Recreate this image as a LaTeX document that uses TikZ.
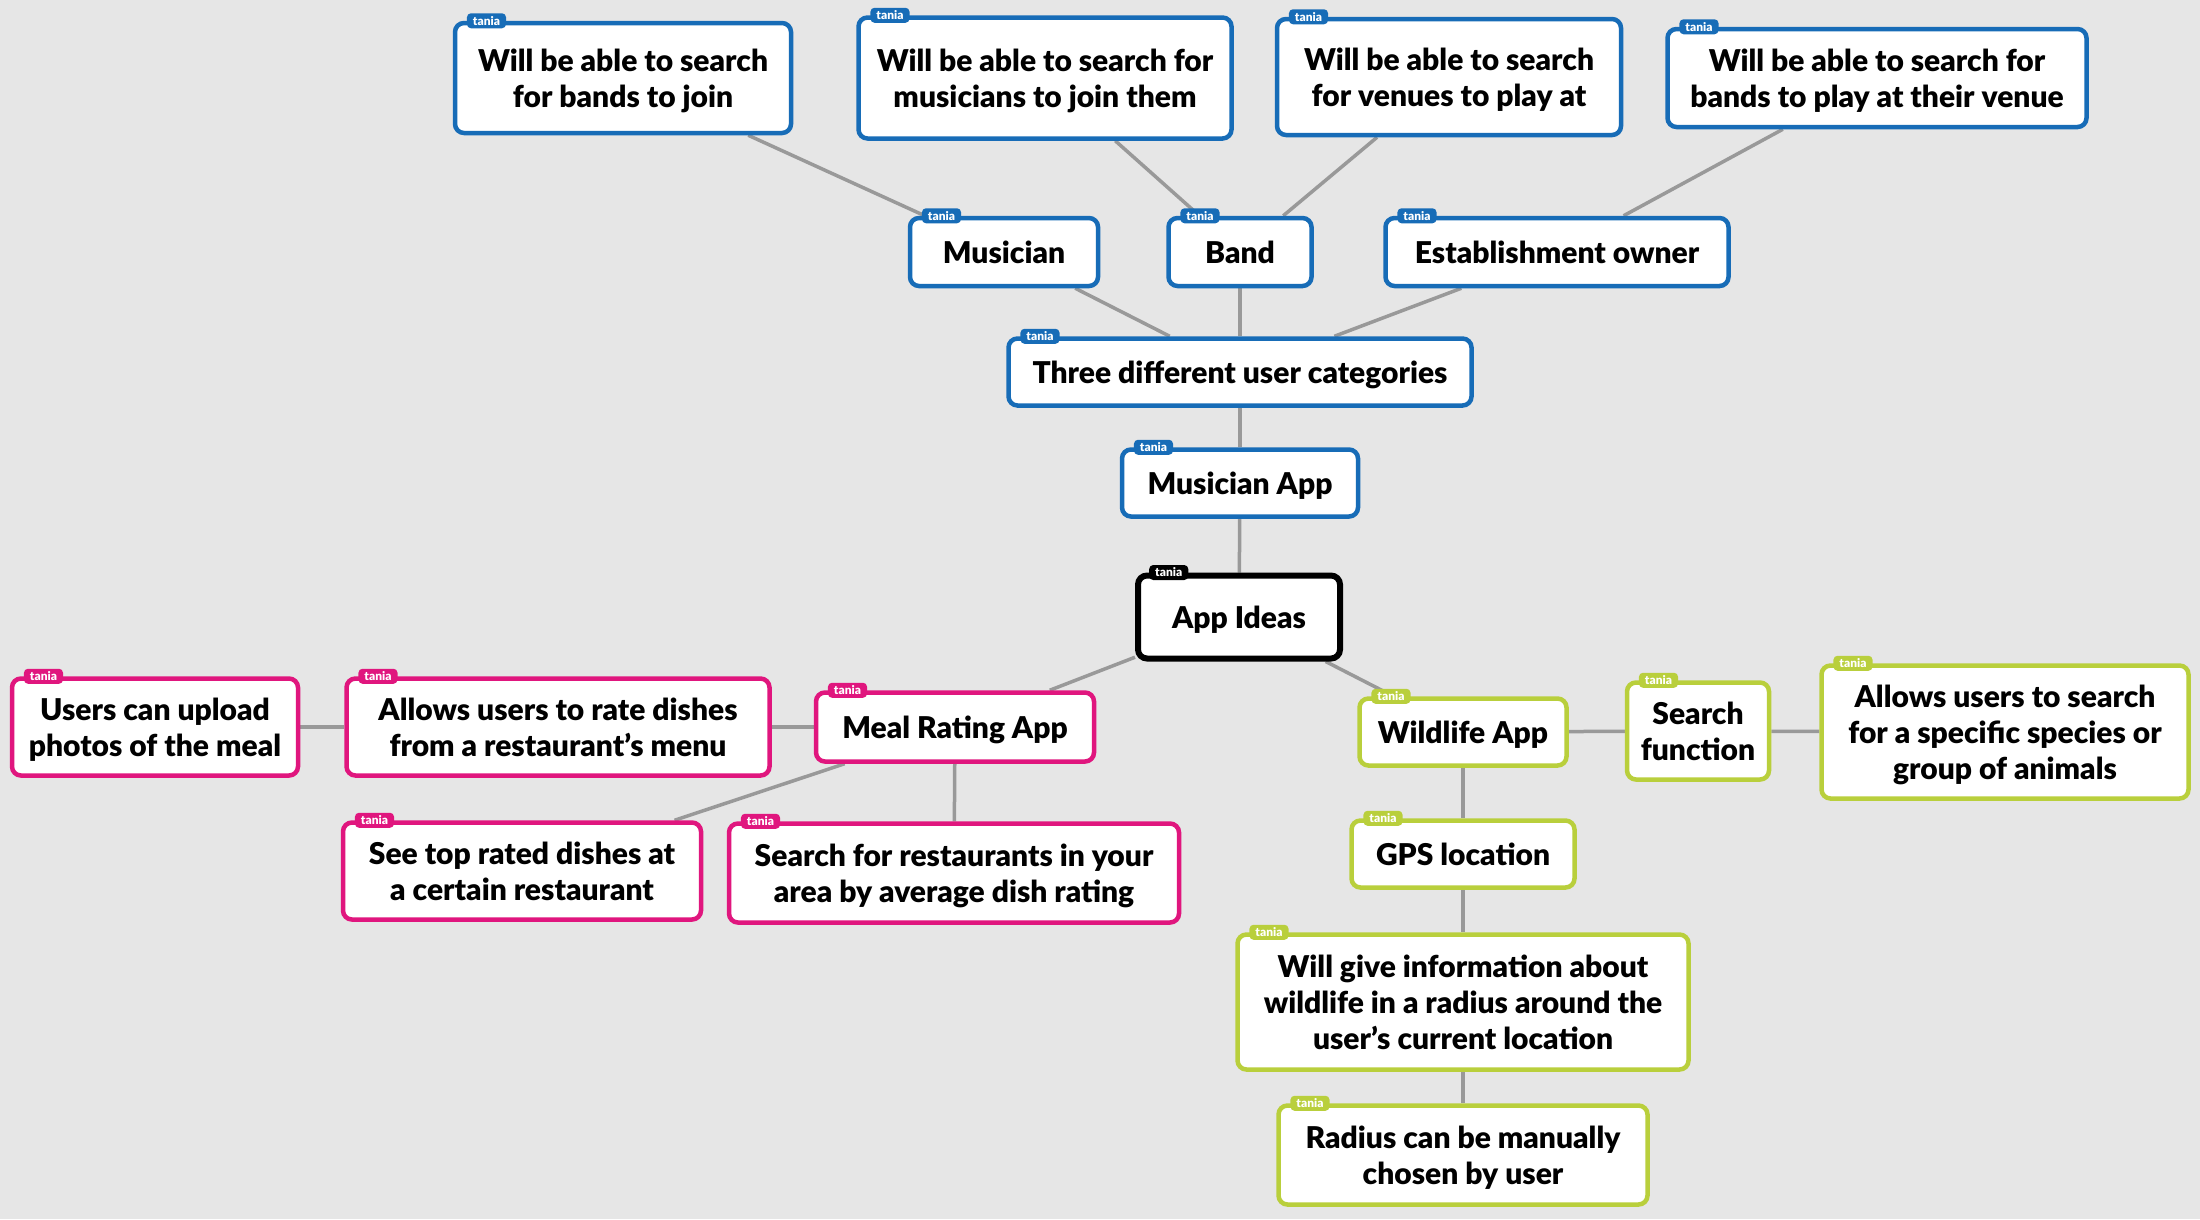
\documentclass[tikz,border=0pt]{standalone}
\usepackage{fontspec}
\setmainfont{Lato}[BoldFont={Lato Black}]
\usetikzlibrary{backgrounds}
\definecolor{mapblue}{RGB}{23,108,183}
\definecolor{mappink}{RGB}{224,22,126}
\definecolor{maplime}{RGB}{185,207,60}
\definecolor{mapback}{RGB}{230,230,230}
\definecolor{maplink}{RGB}{153,153,153}
\begin{document}
\begin{tikzpicture}[x=1pt, y=-1pt,
    tag/.style={fill=#1, text=white, rounded corners=4, inner xsep=6, inner ysep=0, minimum height=15, text depth=, font=\fontsize{12}{12}\selectfont\bfseries},
    idea/.style={draw=#1, fill=white, line width=4.5, rounded corners=9, align=center, inner sep=0,
      font=\fontsize{30}{36}\selectfont\bfseries, text depth=0pt,
      label={[tag=#1, anchor=west, xshift=14]north west:tania}},
    link/.style={draw=maplink, line width=3.5}]
    % musician app branch
    \node[idea=mapblue, minimum width=336, minimum height=110] (bandsjoin) at (623,78) {Will be able to search\\for bands to join};
    \node[idea=mapblue, minimum width=373, minimum height=121] (musjoin) at (1045,78) {Will be able to search for\\musicians to join them};
    \node[idea=mapblue, minimum width=344, minimum height=116] (venues) at (1449,77) {Will be able to search\\for venues to play at};
    \node[idea=mapblue, minimum width=419, minimum height=98] (venband) at (1877,78) {Will be able to search for\\bands to play at their venue};
    \node[idea=mapblue, minimum width=188, minimum height=68] (musician) at (1004,252) {Musician};
    \node[idea=mapblue, minimum width=143, minimum height=68] (band) at (1240,252) {Band};
    \node[idea=mapblue, minimum width=343, minimum height=68] (owner) at (1557,252) {Establishment owner};
    \node[idea=mapblue, minimum width=463, minimum height=67] (usercat) at (1240,372) {Three different user categories};
    \node[idea=mapblue, minimum width=236, minimum height=67] (musapp) at (1240,483) {Musician App};
    % root
    \node[idea=black, line width=6, minimum width=202, minimum height=83] (ideas) at (1239,617) {App Ideas};
    % meal rating branch
    \node[idea=mappink, minimum width=278, minimum height=69] (meal) at (955,727) {Meal Rating App};
    \node[idea=mappink, minimum width=423, minimum height=97] (ratedish) at (558,727) {Allows users to rate dishes\\from a restaurant’s menu};
    \node[idea=mappink, minimum width=286, minimum height=97] (upload) at (155,727) {Users can upload\\photos of the meal};
    \node[idea=mappink, minimum width=358, minimum height=97] (toprated) at (522,871) {See top rated dishes at\\a certain restaurant};
    \node[idea=mappink, minimum width=450, minimum height=99] (searchrest) at (954,873) {Search for restaurants in your\\area by average dish rating};
    % wildlife branch
    \node[idea=maplime, minimum width=207, minimum height=67] (wildlife) at (1463,732) {Wildlife App};
    \node[idea=maplime, minimum width=142, minimum height=97] (searchfn) at (1698,731) {Search\\function};
    \node[idea=maplime, minimum width=367, minimum height=133] (species) at (2005,732) {Allows users to search\\for a specific species or\\group of animals};
    \node[idea=maplime, minimum width=223, minimum height=67] (gps) at (1463,854) {GPS location};
    \node[idea=maplime, minimum width=451, minimum height=135] (info) at (1463,1002) {Will give information about\\wildlife in a radius around the\\user’s current location};
    \node[idea=maplime, minimum width=369, minimum height=99] (radius) at (1463,1155) {Radius can be manually\\chosen by user};
    \begin{pgfonlayer}{background}
      \fill[mapback] (0,0) rectangle (2200,1219);
      \draw[link] (bandsjoin) -- (musician);
      \draw[link] (musjoin) -- (band);
      \draw[link] (venues) -- (band);
      \draw[link] (venband) -- (owner);
      \draw[link] (musician) -- (usercat);
      \draw[link] (band) -- (usercat);
      \draw[link] (owner) -- (usercat);
      \draw[link] (usercat) -- (musapp);
      \draw[link] (musapp) -- (ideas);
      \draw[link] (ideas) -- (meal);
      \draw[link] (ideas) -- (wildlife);
      \draw[link] (meal) -- (ratedish);
      \draw[link] (ratedish) -- (upload);
      \draw[link] (meal) -- (toprated);
      \draw[link] (meal) -- (searchrest);
      \draw[link] (wildlife) -- (searchfn);
      \draw[link] (searchfn) -- (species);
      \draw[link] (wildlife) -- (gps);
      \draw[link] (gps) -- (info);
      \draw[link] (info) -- (radius);
    \end{pgfonlayer}
\end{tikzpicture}
\end{document}
